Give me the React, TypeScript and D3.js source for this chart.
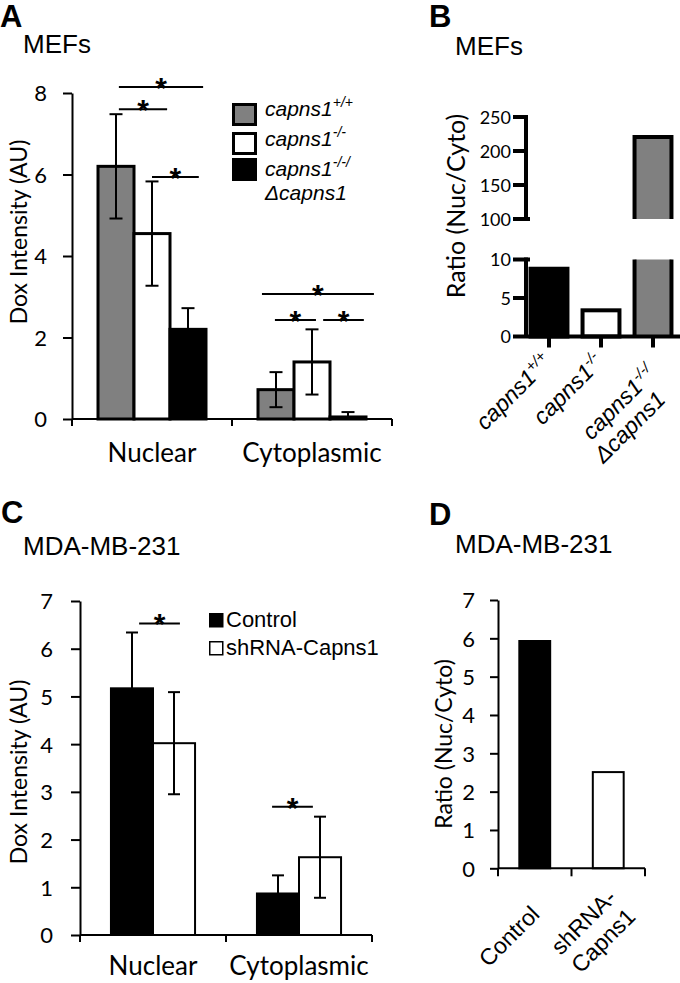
import { useEffect, useRef } from 'react';
import * as d3 from 'd3';

// ---- panel A: MEFs dox intensity ----
const mefGroups = ['Nuclear', 'Cytoplasmic'];
const mefGenoSup = ['+/+', '-/-', '-/-/'];
const mefFills = ['#808080', '#ffffff', '#000000'];
const mefWT = [6.2, 0.72];
const mefKO = [4.55, 1.4];
const mefRescue = [2.2, 0.05];
const mefWTErr = [1.28, 0.43];
const mefKOErr = [1.28, 0.8];
const mefRescueErr = [0.52, 0.12];
const mefTicks = [0, 2, 4, 6, 8];
const mefSig = [
  { group: 0, from: 0.08, to: 2.42, y: 8.15 },
  { group: 0, from: 0.08, to: 1.42, y: 7.6 },
  { group: 0, from: 1.0, to: 2.3, y: 5.94 },
  { group: 1, from: -0.39, to: 2.72, y: 3.07 },
  { group: 1, from: -0.03, to: 1.11, y: 2.43 },
  { group: 1, from: 1.31, to: 2.44, y: 2.43 },
];

// ---- panel B: MEFs ratio ----
const ratioLabels = ['wt', 'ko', 'rescue'];
const ratioSup = ['+/+', '-/-', '-/-/'];
const ratioValues = [8.8, 3.4, 220.5];
const ratioFills = ['#000000', '#ffffff', '#808080'];
const ratioTicksLow = [0, 5, 10];
const ratioTicksHigh = [100, 150, 200, 250];

// ---- panel C: MDA-MB-231 dox intensity ----
const mdaGroups = ['Nuclear', 'Cytoplasmic'];
const mdaSeries = ['Control', 'shRNA-Capns1'];
const mdaFills = ['#000000', '#ffffff'];
const mdaControl = [5.17, 0.87];
const mdaShRNA = [4.02, 1.63];
const mdaControlErr = [1.17, 0.38];
const mdaShRNAErr = [1.07, 0.85];
const mdaTicks = [0, 1, 2, 3, 4, 5, 6, 7];
const mdaSig = [
  { group: 0, from: 0.17, to: 1.14, y: 6.53 },
  { group: 1, from: -0.14, to: 0.83, y: 2.69 },
];

// ---- panel D: MDA-MB-231 ratio ----
const mdaRatioLabels = [['Control'], ['shRNA-', 'Capns1']];
const mdaRatios = [5.93, 2.51];
const mdaRatioTicks = [0, 1, 2, 3, 4, 5, 6, 7];

const ARIAL = '"Liberation Sans", Arial, sans-serif';
const CAL = 'Lato, "Open Sans", sans-serif';

type G = d3.Selection<SVGGElement, unknown, null, undefined>;

function line(g: G, x1: number, y1: number, x2: number, y2: number, w = 2) {
  g.append('line').attr('x1', x1).attr('y1', y1).attr('x2', x2).attr('y2', y2)
    .attr('stroke', '#000').attr('stroke-width', w);
}

function txt(g: G, x: number, y: number, s: string, size: number, font = ARIAL, anchor = 'start') {
  return g.append('text').attr('x', x).attr('y', y).attr('font-family', font)
    .attr('font-size', size).attr('text-anchor', anchor).attr('fill', '#000').text(s);
}

function errBar(g: G, cx: number, yTop: number, yBot: number, cap: number, w = 2) {
  line(g, cx, yTop, cx, yBot, w);
  line(g, cx - cap / 2, yTop, cx + cap / 2, yTop, w);
  line(g, cx - cap / 2, yBot, cx + cap / 2, yBot, w);
}

function star(g: G, x1: number, x2: number, y: number) {
  line(g, x1, y, x2, y, 2);
  txt(g, (x1 + x2) / 2, y + 11, '*', 30, ARIAL, 'middle').attr('font-weight', 'bold');
}

function yAxis(g: G, y: d3.ScaleLinear<number, number>, x: number, ticks: number[], size: number, pad: number, fontSize: number, w = 2) {
  const ax = g.append('g').attr('transform', `translate(${x},0)`)
    .call(d3.axisLeft(y).tickValues(ticks).tickSize(size).tickSizeOuter(0).tickPadding(pad).tickFormat(d3.format('d')));
  ax.select('.domain').attr('stroke-width', w);
  ax.selectAll('.tick line').attr('stroke-width', w);
  ax.selectAll('.tick text').attr('font-family', CAL).attr('font-size', fontSize).attr('fill', '#000').attr('dy', '0.36em');
  return ax;
}

export default function App() {
  const svgRef = useRef<SVGSVGElement>(null);

  useEffect(() => {
    if (!svgRef.current) return;
    const svg = d3.select(svgRef.current);
    svg.selectAll('*').remove();
    const root = svg.append('g') as unknown as G;

    // ================= A =================
    const gA = root.append('g') as G;
    txt(gA, 0, 27, 'A', 31).attr('font-weight', 'bold');
    txt(gA, 23, 53, 'MEFs', 26);

    const yA = d3.scaleLinear().domain([0, 8]).range([419, 93]);
    const xA = d3.scaleBand().domain(mefGroups).range([72, 392]);
    const bwA = xA.bandwidth() * 0.225;
    const cA = (gi: number, i: number) => xA(mefGroups[gi])! + xA.bandwidth() / 2 + (i - 1) * bwA;
    const meansA = [mefWT, mefKO, mefRescue];
    const errsA = [mefWTErr, mefKOErr, mefRescueErr];

    meansA.forEach((vals, si) => {
      gA.selectAll(null).data(vals).enter().append('rect')
        .attr('x', (_, gi) => cA(gi, si) - bwA / 2)
        .attr('y', (d) => yA(d))
        .attr('width', bwA)
        .attr('height', (d) => yA(0) - yA(d))
        .attr('fill', mefFills[si]).attr('stroke', '#000').attr('stroke-width', 3);
    });
    meansA.forEach((vals, si) => vals.forEach((v, gi) => {
      errBar(gA, cA(gi, si), yA(v + errsA[si][gi]), yA(Math.max(0, v - errsA[si][gi])), 13, 2);
    }));

    yAxis(gA, yA, 72, mefTicks, 9, 16, 22);
    line(gA, 72, yA(0), 392, yA(0), 2);
    [72, ...mefGroups.map((d) => xA(d)! + xA.bandwidth())].forEach((x) => line(gA, x, yA(0), x, yA(0) + 7, 2));
    mefGroups.forEach((d) => txt(gA, xA(d)! + xA.bandwidth() / 2, 462, d, 26, CAL, 'middle'));
    txt(gA, 0, 0, 'Dox Intensity (AU)', 23, CAL, 'middle').attr('transform', 'translate(27,232) rotate(-90)');

    mefSig.forEach((s) => star(gA, cA(s.group, s.from), cA(s.group, s.to), yA(s.y)));

    // legend
    mefGenoSup.forEach((sup, i) => {
      const by = [104.5, 133.5, 159.5][i];
      gA.append('rect').attr('x', 233.5).attr('y', by).attr('width', 22).attr('height', 20)
        .attr('fill', mefFills[i]).attr('stroke', '#000').attr('stroke-width', 3);
      const t = txt(gA, 265, [116, 146, 176][i], 'capns1', 21).attr('font-style', 'italic');
      t.append('tspan').attr('dy', -9).attr('font-size', 14).text(sup);
    });
    txt(gA, 265, 200, 'Δcapns1', 21).attr('font-style', 'italic');

    // ================= B =================
    const gB = root.append('g') as G;
    txt(gB, 429, 27, 'B', 31).attr('font-weight', 'bold');
    txt(gB, 455, 55, 'MEFs', 26);

    const yBlow = d3.scaleLinear().domain([0, 10]).range([336.5, 259.5]);
    const yBhigh = d3.scaleLinear().domain([100, 250]).range([219, 117]);
    const xB = d3.scaleBand().domain(ratioLabels).range([523, 679]);
    const bwB = xB.bandwidth() * 0.71;
    const cB = (d: string) => xB(d)! + xB.bandwidth() / 2;
    const axB = 526;

    ratioLabels.forEach((d, i) => {
      const v = ratioValues[i];
      const x0 = cB(d) - bwB / 2;
      const x1 = cB(d) + bwB / 2;
      if (v <= 10) {
        gB.append('rect').attr('x', x0).attr('y', yBlow(v)).attr('width', bwB).attr('height', yBlow(0) - yBlow(v))
          .attr('fill', ratioFills[i]).attr('stroke', '#000').attr('stroke-width', 4);
      } else {
        gB.append('rect').attr('x', x0).attr('y', yBlow(10)).attr('width', bwB).attr('height', yBlow(0) - yBlow(10))
          .attr('fill', ratioFills[i]);
        line(gB, x0, yBlow(10), x0, yBlow(0), 4);
        line(gB, x1, yBlow(10), x1, yBlow(0), 4);
        gB.append('rect').attr('x', x0).attr('y', yBhigh(v)).attr('width', bwB).attr('height', yBhigh(100) - yBhigh(v))
          .attr('fill', ratioFills[i]);
        gB.append('path').attr('d', `M${x0},${yBhigh(100)}V${yBhigh(v)}H${x1}V${yBhigh(100)}`)
          .attr('fill', 'none').attr('stroke', '#000').attr('stroke-width', 4);
      }
    });

    line(gB, axB, yBhigh(250) - 2, axB, yBhigh(100), 4);
    line(gB, axB, yBlow(10) - 2, axB, yBlow(0), 4);
    ratioTicksHigh.forEach((t) => {
      line(gB, axB - 13, yBhigh(t), axB + (t === 100 ? 4 : 0), yBhigh(t), 4);
      txt(gB, 511, yBhigh(t) + 6.5, String(t), 18, CAL, 'end');
    });
    ratioTicksLow.forEach((t) => {
      line(gB, axB - 13, yBlow(t), axB + (t === 10 ? 4 : 0), yBlow(t), 4);
      txt(gB, 511, yBlow(t) + 6.5, String(t), 18, CAL, 'end');
    });
    line(gB, axB, yBlow(0), 680, yBlow(0), 4);
    ratioLabels.forEach((d) => line(gB, cB(d), yBlow(0), cB(d), yBlow(0) + 11, 4));
    txt(gB, 0, 0, 'Ratio (Nuc/Cyto)', 25, CAL, 'middle').attr('transform', 'translate(465,206) rotate(-90)');

    ratioLabels.forEach((d, i) => {
      const extra = i === 2 ? 12 : 0;
      const lg = gB.append('g').attr('transform', `translate(${cB(d) + 4},${yBlow(0) + 27 + extra}) rotate(-45)`) as G;
      const t = txt(lg, 0, 0, 'capns1', 23, ARIAL, 'end').attr('font-style', 'italic');
      t.append('tspan').attr('dy', -9).attr('font-size', 15).text(ratioSup[i]);
      if (i === 2) txt(lg, -11, 25, 'Δcapns1', 23, ARIAL, 'end').attr('font-style', 'italic');
    });

    // ================= C =================
    const gC = root.append('g') as G;
    txt(gC, 1, 523, 'C', 31).attr('font-weight', 'bold');
    txt(gC, 23, 555, 'MDA-MB-231', 26);

    const yC = d3.scaleLinear().domain([0, 7]).range([935, 601]);
    const xC = d3.scaleBand().domain(mdaGroups).range([80, 372]);
    const bwC = xC.bandwidth() * 0.288;
    const cC = (gi: number, i: number) => xC(mdaGroups[gi])! + xC.bandwidth() / 2 + (i - 0.5) * bwC;
    const meansC = [mdaControl, mdaShRNA];
    const errsC = [mdaControlErr, mdaShRNAErr];

    meansC.forEach((vals, si) => {
      gC.selectAll(null).data(vals).enter().append('rect')
        .attr('x', (_, gi) => cC(gi, si) - bwC / 2)
        .attr('y', (d) => yC(d))
        .attr('width', bwC)
        .attr('height', (d) => yC(0) - yC(d))
        .attr('fill', mdaFills[si]).attr('stroke', '#000').attr('stroke-width', 2);
    });
    meansC.forEach((vals, si) => vals.forEach((v, gi) => {
      errBar(gC, cC(gi, si), yC(v + errsC[si][gi]), yC(Math.max(0, v - errsC[si][gi])), 12, 2);
    }));

    yAxis(gC, yC, 80, mdaTicks, 9, 18, 22);
    line(gC, 80, yC(0), 372, yC(0), 2);
    [80, ...mdaGroups.map((d) => xC(d)! + xC.bandwidth())].forEach((x) => line(gC, x, yC(0), x, yC(0) + 7, 2));
    mdaGroups.forEach((d) => txt(gC, xC(d)! + xC.bandwidth() / 2, 975, d, 26, CAL, 'middle'));
    txt(gC, 0, 0, 'Dox Intensity (AU)', 23, CAL, 'middle').attr('transform', 'translate(27,772) rotate(-90)');
    mdaSig.forEach((s) => star(gC, cC(s.group, s.from), cC(s.group, s.to), yC(s.y)));

    mdaSeries.forEach((s, i) => {
      const by = [613, 641][i];
      gC.append('rect').attr('x', 209.75).attr('y', by + 0.75).attr('width', 13).attr('height', 13)
        .attr('fill', mdaFills[i]).attr('stroke', '#000').attr('stroke-width', 1.5);
      txt(gC, 226, by + 14, s, 22);
    });

    // ================= D =================
    const gD = root.append('g') as G;
    txt(gD, 429, 525, 'D', 31).attr('font-weight', 'bold');
    txt(gD, 455, 553, 'MDA-MB-231', 26);

    const yD = d3.scaleLinear().domain([0, 7]).range([868.3, 600]);
    const xD = d3.scaleBand().domain(mdaRatioLabels.map((l) => l.join(''))).range([498, 645]);
    const bwD = xD.bandwidth() * 0.42;
    mdaRatioLabels.forEach((l, i) => {
      const k = l.join('');
      const cx = xD(k)! + xD.bandwidth() / 2;
      gD.append('rect').attr('x', cx - bwD / 2).attr('y', yD(mdaRatios[i])).attr('width', bwD)
        .attr('height', yD(0) - yD(mdaRatios[i])).attr('fill', mdaFills[i]).attr('stroke', '#000').attr('stroke-width', 2);
      const lg = gD.append('g').attr('transform', `translate(${cx + 9},${yD(0) + 36}) rotate(-45)`) as G;
      const lh = 27;
      const multi = l.length > 1;
      l.forEach((s, j) => txt(lg, multi ? 4 : -10, (multi ? 10 : 6) + (j - (l.length - 1) / 2) * lh, s, 23, ARIAL, 'end'));
    });
    yAxis(gD, yD, 498, mdaRatioTicks, 8, 15, 22);
    line(gD, 498, yD(0), 645, yD(0), 2);
    [498, ...mdaRatioLabels.map((l) => xD(l.join(''))! + xD.bandwidth())].forEach((x) => line(gD, x, yD(0), x, yD(0) + 8, 2));
    txt(gD, 0, 0, 'Ratio (Nuc/Cyto)', 23, CAL, 'middle').attr('transform', 'translate(452,744) rotate(-90)');
  }, []);

  return (
    <div style={{ position: 'absolute', left: 0, top: 0 }}>
      <svg ref={svgRef} width={680} height={983} style={{ display: 'block', background: '#fff' }} />
    </div>
  );
}
